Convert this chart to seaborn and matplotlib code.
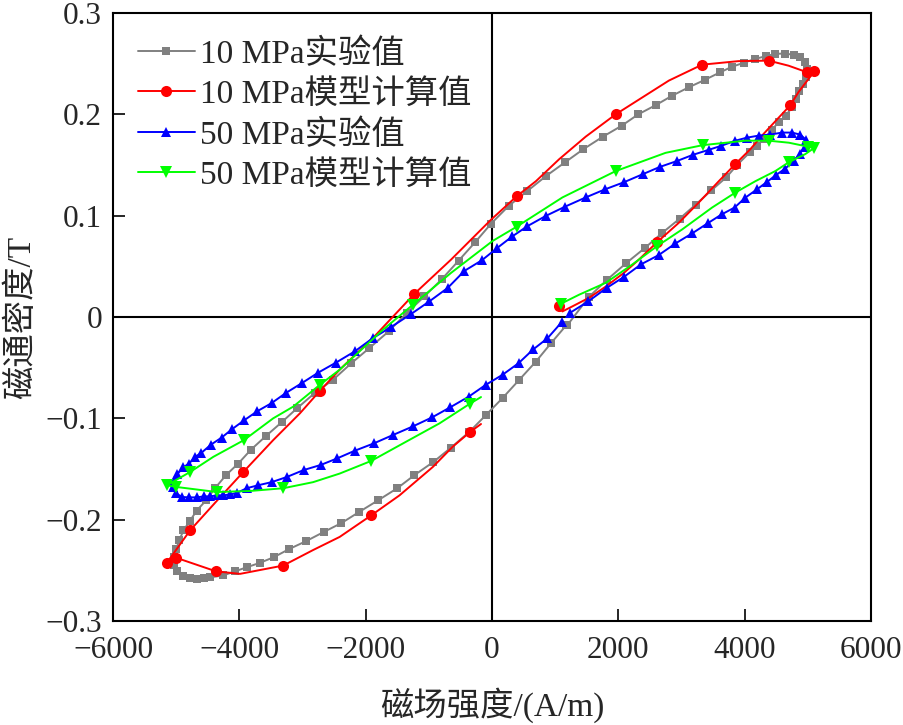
import matplotlib
matplotlib.use("Agg")
import matplotlib.pyplot as plt
import seaborn as sns
import pandas as pd

# ---------------- data ----------------
series_labels = ["10 MPa实验值", "10 MPa模型计算值", "50 MPa实验值", "50 MPa模型计算值"]

gray_H = [1194, 1537, 1826, 2121, 2418, 2695, 2970, 3226, 3474, 3712, 3880, 4090, 4195, 4300, 4432,
          4537, 4652, 4747, 4810, 4864, 4916, 4968, 4984, 4948, 4880, 4774, 4643, 4485, 4337, 4169,
          3984, 3800, 3616, 3368, 3116, 2852, 2590, 2315, 2052, 1757, 1446, 1153, 853, 553, 262,
          -16, -264, -527, -790, -1069, -1348, -1633, -1948, -2227, -2517, -2806, -3085, -3332,
          -3580, -3817, -4017, -4211, -4385, -4527, -4674, -4780, -4885, -4948, -5000, -5032,
          -5040, -4990, -4885, -4780, -4674, -4560, -4464, -4254, -4069, -3884, -3674, -3453,
          -3211, -2937, -2659, -2385, -2106, -1806, -1500, -1227, -927, -647, -358, -95, 167,
          431, 695, 932, 1178]
gray_B = [-0.008, 0.020, 0.037, 0.053, 0.068, 0.083, 0.097, 0.111, 0.125, 0.138, 0.150, 0.163, 0.169,
          0.1755, 0.185, 0.192, 0.1986, 0.207, 0.215, 0.2234, 0.230, 0.2366, 0.245, 0.2515, 0.2564,
          0.2587, 0.260, 0.2597, 0.2574, 0.2548, 0.2508, 0.247, 0.2416, 0.234, 0.2267, 0.2184,
          0.209, 0.200, 0.1887, 0.178, 0.1656, 0.1525, 0.139, 0.124, 0.1095, 0.092, 0.074,
          0.0557, 0.0376, 0.0204, 0.004, -0.014, -0.031, -0.0456, -0.062, -0.075, -0.090,
          -0.104, -0.1175, -0.131, -0.1446, -0.156, -0.169, -0.181, -0.191, -0.201, -0.2106,
          -0.220, -0.229, -0.237, -0.245, -0.251, -0.256, -0.258, -0.2585, -0.258, -0.257,
          -0.255, -0.251, -0.247, -0.2426, -0.237, -0.229, -0.221, -0.212, -0.2034, -0.1925,
          -0.181, -0.169, -0.156, -0.143, -0.1288, -0.1133, -0.0967, -0.080, -0.062, -0.044,
          -0.026, -0.008]

red_H = [1063, 1115, 1273, 1537, 1800, 2089, 2326, 2615, 2958, 3274, 3590, 3853, 4090, 4274, 4722,
         4853, 5105, 4984, 4695, 4380, 3900, 3326, 2800, 1958, 1484, 1063, 695, 388, -16, -647,
         -1227, -1859, -2411, -2727, -3040, -3464, -3938, -4350, -4780, -5148, -5000, -4369,
         -3990, -3306, -2833, -2411, -1911, -1464, -937, -622, -343, -174]
red_B = [0.0105, 0.0055, 0.0105, 0.019, 0.030, 0.0436, 0.0567, 0.0739, 0.093, 0.113, 0.134, 0.151,
         0.1656, 0.179, 0.209, 0.222, 0.2426, 0.2416, 0.248, 0.253, 0.2525, 0.249, 0.2333, 0.200,
         0.178, 0.1557, 0.134, 0.119, 0.096, 0.0567, 0.023, -0.019, -0.052, -0.073, -0.095,
         -0.1215, -0.153, -0.181, -0.2106, -0.2426, -0.2376, -0.251, -0.2535, -0.2453, -0.230,
         -0.217, -0.1957, -0.176, -0.148, -0.128, -0.1133, -0.1056]

blue_H = [1232, 1526, 1816, 2089, 2360, 2636, 2905, 3168, 3412, 3637, 3840, 4011, 4195, 4353, 4494,
          4643, 4774, 4870, 4950, 4970, 4880, 4747, 4590, 4406, 4221, 4037, 3853, 3632, 3432, 3179,
          2931, 2653, 2389, 2089, 1790, 1484, 1160, 853, 562, 320, 80, -160, -437, -701, -990,
          -1280, -1600, -1890, -2174, -2470, -2754, -3004, -3264, -3490, -3717, -3925, -4122,
          -4280, -4450, -4600, -4700, -4800, -4885, -4980, -5030, -5043, -5000, -4911, -4800,
          -4674, -4560, -4464, -4350, -4254, -4140, -4043, -3884, -3700, -3490, -3253, -2980,
          -2711, -2454, -2174, -1874, -1570, -1254, -947, -658, -369, -100, 167, 420, 652, 878,
          1105]
blue_B = [0.004, 0.0155, 0.0287, 0.0396, 0.052, 0.061, 0.0726, 0.0825, 0.0924, 0.1013, 0.108,
          0.1178, 0.126, 0.1333, 0.140, 0.1465, 0.154, 0.161, 0.168, 0.175, 0.180, 0.182, 0.182,
          0.180, 0.179, 0.177, 0.174, 0.169, 0.165, 0.160, 0.154, 0.148, 0.141, 0.133, 0.126,
          0.118, 0.109, 0.0998, 0.0897, 0.0795, 0.068, 0.056, 0.0455, 0.0287, 0.0155, 0.003,
          -0.010, -0.021, -0.034, -0.045, -0.055, -0.065, -0.075, -0.085, -0.093, -0.102, -0.111,
          -0.119, -0.126, -0.134, -0.138, -0.145, -0.148, -0.155, -0.162, -0.168, -0.174, -0.1776,
          -0.178, -0.178, -0.177, -0.177, -0.176, -0.176, -0.175, -0.1737, -0.169, -0.166,
          -0.163, -0.158, -0.151, -0.146, -0.1396, -0.132, -0.1248, -0.1165, -0.108, -0.099,
          -0.089, -0.0786, -0.067, -0.057, -0.0456, -0.032, -0.021, -0.005]

green_H = [1089, 1379, 1800, 2221, 2615, 3010, 3484, 3853, 4169, 4485, 4705, 4958, 5105, 5010, 4700,
           4380, 4011, 3337, 2748, 1958, 1115, 388, 9, -647, -1254, -1727, -2411, -2727, -3148,
           -3464, -3927, -4412, -4780, -5148, -5000, -4358, -3832, -3306, -2833, -2411, -1911,
           -1358, -832, -348, -174]
green_B = [0.013, 0.022, 0.0337, 0.0518, 0.070, 0.0864, 0.108, 0.1228, 0.134, 0.144, 0.153, 0.1607,
           0.167, 0.168, 0.172, 0.174, 0.174, 0.1696, 0.162, 0.144, 0.118, 0.089, 0.075, 0.0436,
           0.012, -0.0126, -0.052, -0.067, -0.0885, -0.100, -0.1215, -0.138, -0.153, -0.166,
           -0.1677, -0.1727, -0.1717, -0.169, -0.163, -0.1545, -0.142, -0.123, -0.105, -0.0855,
           -0.079]

x_ticks = [-6000, -4000, -2000, 0, 2000, 4000, 6000]
x_ticklabels = ["\u22126000", "\u22124000", "\u22122000", "0", "2000", "4000", "6000"]
y_ticks = [-0.3, -0.2, -0.1, 0, 0.1, 0.2, 0.3]
y_ticklabels = ["\u22120.3", "\u22120.2", "\u22120.1", "0", "0.1", "0.2", "0.3"]

# ---------------- style ----------------
sns.set_theme(style="ticks", rc={
    "xtick.direction": "in", "ytick.direction": "in",
    "xtick.major.size": 8.5, "ytick.major.size": 8.5,
    "xtick.major.width": 1.4, "ytick.major.width": 1.4,
    "axes.linewidth": 1.5, "axes.edgecolor": "black",
})
plt.rcParams["font.family"] = ["Liberation Serif", "Noto Sans CJK SC"]
plt.rcParams["axes.unicode_minus"] = True

fig = plt.figure(figsize=(9.04, 7.25), dpi=100)
ax = fig.add_axes([113 / 904, 1 - 621 / 725, (871 - 113) / 904, (621 - 13) / 725])

ax.axhline(0, color="black", lw=1.5, zorder=1)
ax.axvline(0, color="black", lw=1.5, zorder=1)

marker_idx_red = [0, 7, 11, 14, 16, 17, 19, 21, 23, 27, 30, 33, 36, 38, 39, 40, 41, 43, 46, 50]
marker_idx_green = [0, 4, 7, 10, 12, 13, 15, 17, 19, 21, 24, 27, 30, 32, 33, 34, 35, 37, 40, 43]

sns.lineplot(x=gray_H, y=gray_B, sort=False, estimator=None, ax=ax, color="#808080",
             lw=1.4, marker="s", markersize=6.2, markeredgewidth=0, label=series_labels[0])
sns.lineplot(x=red_H, y=red_B, sort=False, estimator=None, ax=ax, color="#ff0000",
             lw=1.4, marker="o", markersize=8, markeredgewidth=0, markevery=marker_idx_red,
             label=series_labels[1])
sns.lineplot(x=blue_H, y=blue_B, sort=False, estimator=None, ax=ax, color="#0000ff",
             lw=1.4, marker="^", markersize=7.5, markeredgewidth=0, label=series_labels[2])
sns.lineplot(x=green_H, y=green_B, sort=False, estimator=None, ax=ax, color="#00ff00",
             lw=1.4, marker="v", markersize=8, markeredgewidth=0, markevery=marker_idx_green,
             label=series_labels[3])

ax.set_xlim(-6000, 6000)
ax.set_ylim(-0.3, 0.3)
ax.set_xticks(x_ticks)
ax.set_xticklabels(x_ticklabels, fontsize=22.5)
ax.set_yticks(y_ticks)
ax.set_yticklabels(y_ticklabels, fontsize=22.5)
ax.tick_params(axis="x", which="major", pad=11, top=False)
ax.tick_params(axis="y", which="major", pad=8, right=False)
for s in ax.spines.values():
    s.set_visible(True)
    s.set_color("black")

ax.set_xlabel("磁场强度/(A/m)", fontsize=24, labelpad=16)
ax.set_ylabel("磁通密度/T", fontsize=24, labelpad=6)

leg = ax.legend(loc="upper left", bbox_to_anchor=(0.0, 1.0), frameon=False, fontsize=24,
                handlelength=1.7, handletextpad=0.15, labelspacing=0.28, numpoints=1,
                borderaxespad=0.25, borderpad=0.5)

fig.savefig("out.png", dpi=100)
